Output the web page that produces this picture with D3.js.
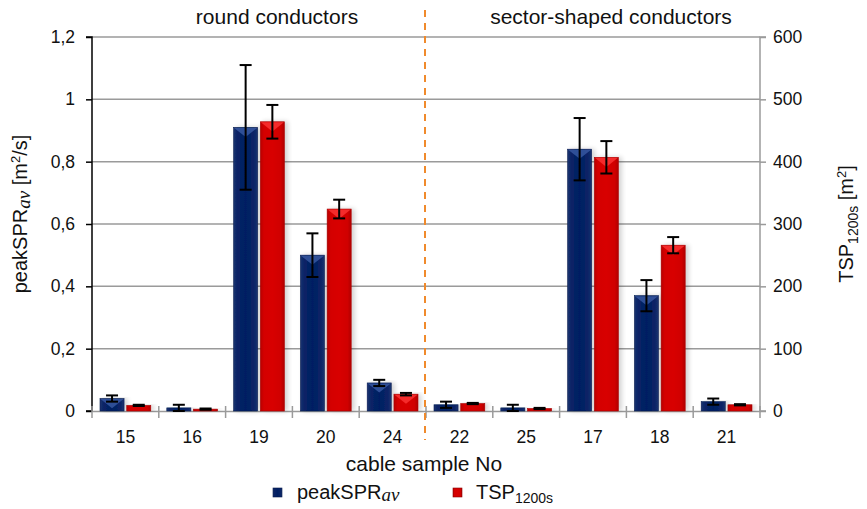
<!DOCTYPE html>
<html><head><meta charset="utf-8">
<script src="https://cdn.jsdelivr.net/npm/d3@7/dist/d3.min.js"></script>
<style>body{margin:0;background:#fff}svg{display:block}text{font-family:"Liberation Sans",Arial,sans-serif;fill:#111}</style>
</head><body><svg id="c" width="867" height="509"></svg>
<script>
const categories = ["15","16","19","20","24","22","25","17","18","21"];
const peakSPR = [0.04,0.01,0.91,0.50,0.09,0.02,0.01,0.84,0.37,0.03];
const peakSPRErr = [0.01,0.01,0.20,0.07,0.01,0.01,0.01,0.10,0.05,0.01];
const tsp = [9,3,464,324,27,12,4,407,266,10];
const tspErr = [1,1,27,15,2,1,1,26,13,1];
const leftTicks = [0,0.2,0.4,0.6,0.8,1.0,1.2];
const rightTicks = [0,100,200,300,400,500,600];
const groupLabels = ["round conductors","sector-shaped conductors"];

const TICK_FS = 17.5, TITLE_FS = 21;
const svg = d3.select("#c");
const L=92, R=760, T=37, B=411;
const x = d3.scaleBand().domain(categories).range([L,R]);
const xs = d3.scaleBand().domain(["a","b"]).range([8, x.bandwidth()-8]).paddingInner(0.1);
const yL = d3.scaleLinear().domain([0,1.2]).range([B,T]);
const yR = d3.scaleLinear().domain([0,600]).range([B,T]);
const fmt = d => d===0?"0":d===1?"1":String(d.toFixed(1)).replace(".",",");

const defs = svg.append("defs");
function grad(id, stops){
  const g = defs.append("linearGradient").attr("id",id).attr("x1","0").attr("x2","1").attr("y1","0").attr("y2","0");
  stops.forEach(s=>g.append("stop").attr("offset",s[0]).attr("stop-color",s[1]));
}
grad("gb",[[0,"#1a3470"],[0.15,"#0a2466"],[0.5,"#001f63"],[0.85,"#0a2466"],[1,"#1a3470"]]);
grad("gr",[[0,"#b80000"],[0.15,"#d40000"],[0.5,"#d80000"],[0.85,"#d00000"],[1,"#b00000"]]);
const f = defs.append("filter").attr("id","sh").attr("x","-30%").attr("y","-10%").attr("width","160%").attr("height","120%");
f.append("feGaussianBlur").attr("in","SourceAlpha").attr("stdDeviation",2.5).attr("result","b");
f.append("feOffset").attr("in","b").attr("dx",3).attr("dy",0).attr("result","o");
f.append("feComponentTransfer").attr("in","o").attr("result","o2").append("feFuncA").attr("type","linear").attr("slope",0.18);
const fm = f.append("feMerge"); fm.append("feMergeNode").attr("in","o2"); fm.append("feMergeNode").attr("in","SourceGraphic");

// gridlines
svg.append("g").selectAll("line").data(leftTicks.filter(d=>d>0)).join("line")
  .attr("x1",L).attr("x2",R).attr("y1",d=>yL(d)).attr("y2",d=>yL(d))
  .attr("stroke","#9a9a9a").attr("stroke-width",1.5);

// left axis
const gL = svg.append("g").attr("transform",`translate(${L},0)`)
  .call(d3.axisLeft(yL).tickValues(leftTicks).tickFormat(fmt).tickSize(6).tickPadding(11));
gL.select(".domain").attr("stroke","#000").attr("stroke-width",1.5).attr("d",`M-6,${T}H0V${B}H-6`);
gL.selectAll(".tick line").attr("stroke","#000").attr("stroke-width",1.5);
gL.selectAll(".tick text").attr("font-size",TICK_FS).attr("fill","#111").style("font-family","Liberation Sans, Arial, sans-serif");

// right axis
const gR = svg.append("g").attr("transform",`translate(${R},0)`)
  .call(d3.axisRight(yR).tickValues(rightTicks).tickSize(6).tickPadding(7));
gR.select(".domain").attr("stroke","#9a9a9a").attr("stroke-width",1.5).attr("d",`M6,${T}H0V${B}H6`);
gR.selectAll(".tick line").attr("stroke","#9a9a9a").attr("stroke-width",1.5);
gR.selectAll(".tick text").attr("font-size",TICK_FS).attr("fill","#111").style("font-family","Liberation Sans, Arial, sans-serif");

// bottom axis
const gB = svg.append("g").attr("transform",`translate(0,${B})`)
  .call(d3.axisBottom(x).tickSize(0).tickPadding(20));
gB.select(".domain").attr("stroke","#9a9a9a").attr("stroke-width",1.5);
gB.selectAll(".tick text").attr("font-size",TICK_FS).attr("fill","#111").style("font-family","Liberation Sans, Arial, sans-serif");
svg.append("g").selectAll("line").data(categories.concat(["end"])).join("line")
  .attr("x1",(d,i)=>i<categories.length?x(d):R).attr("x2",(d,i)=>i<categories.length?x(d):R)
  .attr("y1",B-5).attr("y2",B+7).attr("stroke","#9a9a9a").attr("stroke-width",1.5);

// bars
const series = [
  {key:"a", vals:peakSPR, errs:peakSPRErr, y:yL, fill:"url(#gb)", top:"#3d5fa8", solid:"#0a2466"},
  {key:"b", vals:tsp, errs:tspErr, y:yR, fill:"url(#gr)", top:"#ff3a3a", solid:"#d00000"}
];
series.forEach(s=>{
  const g = svg.append("g");
  const bars = g.selectAll("g").data(categories.map((c,i)=>({c,v:s.vals[i],e:s.errs[i]}))).join("g");
  bars.append("rect")
    .attr("x",d=>x(d.c)+xs(s.key)).attr("width",xs.bandwidth())
    .attr("y",d=>s.y(d.v)).attr("height",d=>B-s.y(d.v))
    .attr("fill",s.fill).attr("stroke",d3.color(s.solid).darker(0.6)).attr("stroke-width",0.6)
    .attr("filter","url(#sh)");
  bars.filter(d=>B-s.y(d.v)>12).append("path")
    .attr("d",d=>{const x0=x(d.c)+xs(s.key), w=xs.bandwidth(), y0=s.y(d.v);
      return `M${x0+0.5},${y0+0.5}L${x0+w-0.5},${y0+0.5}L${x0+w/2},${y0+Math.min(10,w*0.4)}Z`;})
    .attr("fill",s.top).attr("opacity",0.75);
  // error bars
  const ex = d=>x(d.c)+xs(s.key)+xs.bandwidth()/2;
  bars.append("line").attr("x1",ex).attr("x2",ex)
    .attr("y1",d=>s.y(d.v+d.e)).attr("y2",d=>s.y(Math.max(0,d.v-d.e)))
    .attr("stroke","#000").attr("stroke-width",2);
  [1,-1].forEach(sg=>{
    bars.append("line").attr("x1",d=>ex(d)-6).attr("x2",d=>ex(d)+6)
      .attr("y1",d=>s.y(Math.max(0,d.v+sg*d.e))).attr("y2",d=>s.y(Math.max(0,d.v+sg*d.e)))
      .attr("stroke","#000").attr("stroke-width",2);
  });
});

// divider
const divX = x("22");
svg.append("line").attr("x1",divX-1).attr("x2",divX-1).attr("y1",10).attr("y2",440)
  .attr("stroke","#f08a2c").attr("stroke-width",2).attr("stroke-dasharray","7,6");

// group labels
svg.append("text").attr("x",(L+divX)/2+18).attr("y",24).attr("text-anchor","middle").attr("font-size",TITLE_FS).text(groupLabels[0]);
svg.append("text").attr("x",(divX+R)/2+18).attr("y",24).attr("text-anchor","middle").attr("font-size",TITLE_FS).text(groupLabels[1]);

// axis titles
const lt = svg.append("text").attr("transform",`translate(27,${(T+B)/2-10}) rotate(-90)`).attr("text-anchor","middle").attr("font-size",20);
lt.append("tspan").text("peakSPR");
lt.append("tspan").attr("font-family","Liberation Serif, Times New Roman, serif").attr("font-style","italic").attr("font-size",19).attr("dy",3).text("av");
lt.append("tspan").attr("dy",-3).text(" [m");
lt.append("tspan").attr("font-size",13).attr("dy",-7).text("2");
lt.append("tspan").attr("dy",7).text("/s]");

const rt = svg.append("text").attr("transform",`translate(853,${(T+B)/2}) rotate(-90)`).attr("text-anchor","middle").attr("font-size",20);
rt.append("tspan").text("TSP");
rt.append("tspan").attr("font-size",14).attr("dy",5).text("1200s");
rt.append("tspan").attr("dy",-5).text(" [m");
rt.append("tspan").attr("font-size",13).attr("dy",-7).text("2");
rt.append("tspan").attr("dy",7).text("]");

svg.append("text").attr("x",(L+R)/2-2).attr("y",471).attr("text-anchor","middle").attr("font-size",TITLE_FS).text("cable sample No");

// legend
const lg = svg.append("g");
lg.append("rect").attr("x",273).attr("y",488).attr("width",9).attr("height",9).attr("fill","url(#gb)").attr("stroke","#061a4a").attr("stroke-width",0.6);
const l1 = lg.append("text").attr("x",297).attr("y",499).attr("font-size",20);
l1.append("tspan").text("peakSPR");
l1.append("tspan").attr("font-family","Liberation Serif, Times New Roman, serif").attr("font-style","italic").attr("font-size",19).attr("dy",2).text("av");
lg.append("rect").attr("x",453).attr("y",488).attr("width",9).attr("height",9).attr("fill","url(#gr)").attr("stroke","#8a0000").attr("stroke-width",0.6);
const l2 = lg.append("text").attr("x",476).attr("y",499).attr("font-size",20);
l2.append("tspan").text("TSP");
l2.append("tspan").attr("font-size",14).attr("dy",4).text("1200s");
</script></body></html>
